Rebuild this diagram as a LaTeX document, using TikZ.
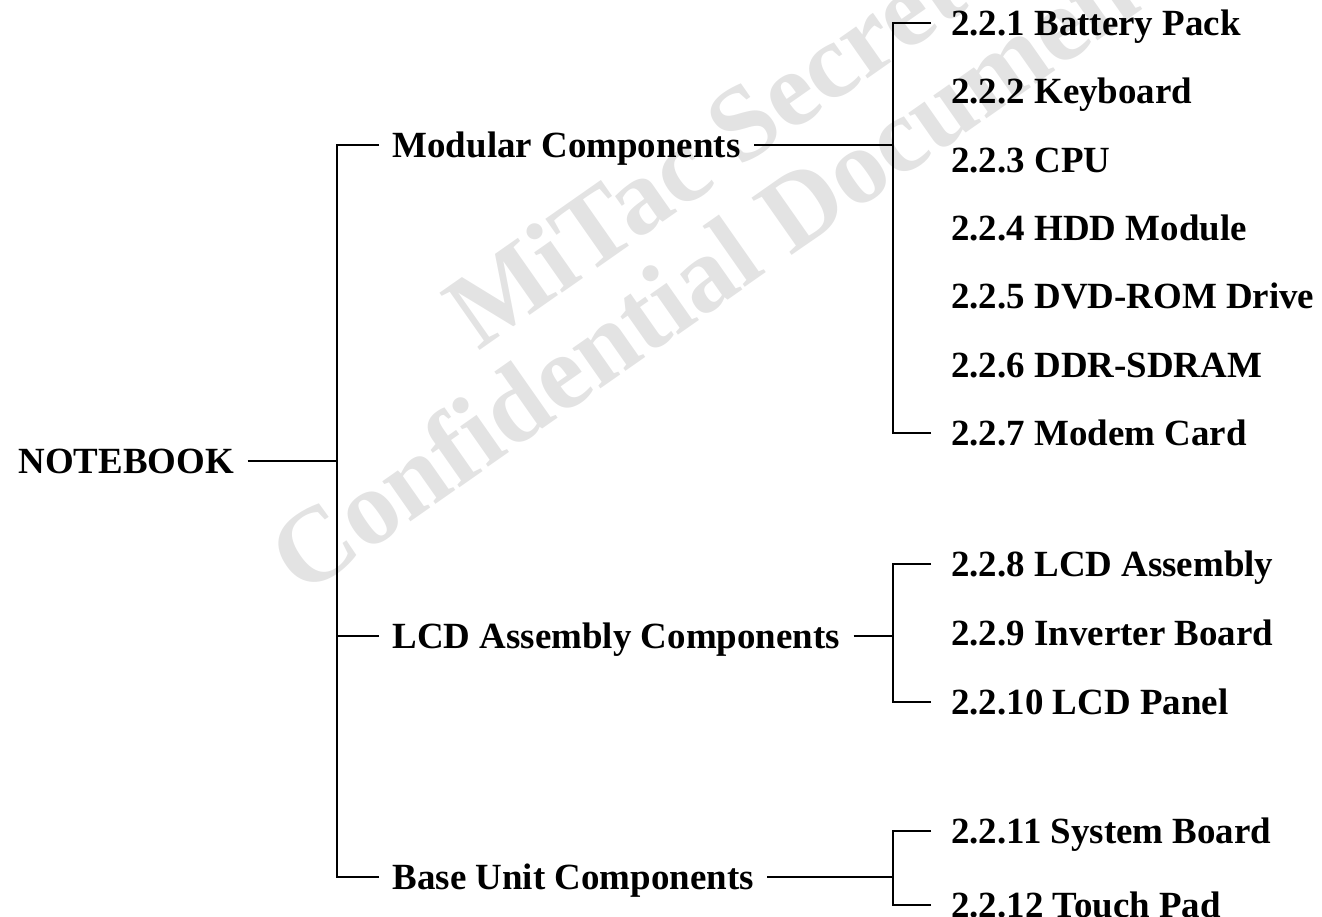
\documentclass[tikz,border=0pt]{standalone}
\usepackage{fontspec}
\setmainfont{Liberation Serif}
\usetikzlibrary{positioning}

\begin{document}
\begin{tikzpicture}[
    x=0.75pt, y=-0.75pt,
    every node/.style={font=\fontsize{27.7}{30}\selectfont\bfseries, text height=18.3pt, text depth=0pt, inner ysep=0pt},
    group/.style={anchor=west, inner xsep=10pt},
    part/.style={anchor=west, inner xsep=15pt},
    branch/.style={line width=1.2pt},
    watermark/.style={font=\fontsize{80}{80}\selectfont\bfseries, text=black!11, rotate=35, anchor=base west, inner sep=0pt}
  ]
    \useasboundingbox (0,0) rectangle (1322,917);

    % Watermark behind everything
    \node[watermark] (wmone) at (478,352) {MiTac Secret};
    \node[watermark] (wmtwo) at (302,598) {Confidential Document};

    % Root and the three groups
    \node[group] (notebook) at (5,461) {NOTEBOOK};
    \node[group] (modular) at (379,145) {Modular Components};
    \node[group] (lcdcomp) at (379,636) {LCD Assembly Components};
    \node[group] (baseunit) at (379,877) {Base Unit Components};

    % Modular parts
    \node[part] (battery) at (931,23) {2.2.1 Battery Pack};
    \node[part] (keyboard) at (931,91) {2.2.2 Keyboard};
    \node[part] (cpu) at (931,160) {2.2.3 CPU};
    \node[part] (hdd) at (931,228) {2.2.4 HDD Module};
    \node[part] (dvd) at (931,296) {2.2.5 DVD-ROM Drive};
    \node[part] (ddr) at (931,365) {2.2.6 DDR-SDRAM};
    \node[part] (modem) at (931,433) {2.2.7 Modem Card};

    % LCD parts
    \node[part] (lcdasm) at (931,564) {2.2.8 LCD Assembly};
    \node[part] (inverter) at (931,633) {2.2.9 Inverter Board};
    \node[part] (panel) at (931,702) {2.2.10 LCD Panel};

    % Base unit parts
    \node[part] (sysboard) at (931,831) {2.2.11 System Board};
    \node[part] (touchpad) at (931,905) {2.2.12 Touch Pad};

    % Junctions
    \coordinate (trunk) at (337,461);
    \coordinate (modj) at (893,145);
    \coordinate (lcdj) at (893,636);
    \coordinate (basej) at (893,877);

    % Root to groups
    \draw[branch] (notebook) -- (trunk);
    \draw[branch] (modular.west) -| (trunk);
    \draw[branch] (baseunit.west) -| (trunk);
    \draw[branch] (lcdcomp.west) -- (lcdcomp.west -| trunk);

    % Groups to parts
    \draw[branch] (modular) -- (modj);
    \draw[branch] (battery.west) -| (modj);
    \draw[branch] (modem.west) -| (modj);
    \draw[branch] (lcdcomp) -- (lcdj);
    \draw[branch] (lcdasm.west) -| (lcdj);
    \draw[branch] (panel.west) -| (lcdj);
    \draw[branch] (baseunit) -- (basej);
    \draw[branch] (sysboard.west) -| (basej);
    \draw[branch] (touchpad.west) -| (basej);

  \end{tikzpicture}
\end{document}
